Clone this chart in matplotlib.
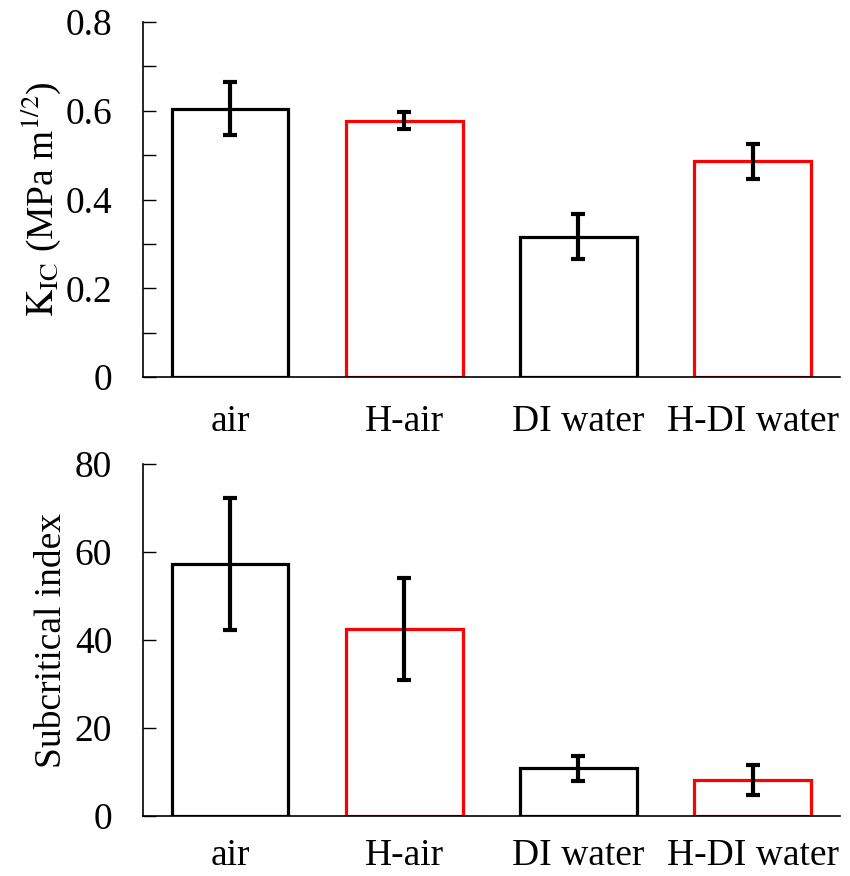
import matplotlib
matplotlib.use("Agg")
import matplotlib.pyplot as plt
from matplotlib.ticker import MultipleLocator

plt.rcParams['font.family'] = ['Liberation Serif', 'DejaVu Serif']
plt.rcParams['mathtext.fontset'] = 'stix'

categories = ["air", "H-air", "DI water", "H-DI water"]
kic_values = [0.605, 0.578, 0.316, 0.486]
kic_errors = [0.060, 0.020, 0.051, 0.039]
sub_values = [57.2, 42.5, 10.8, 8.2]
sub_errors = [15.0, 11.5, 2.9, 3.5]
edge_colors = ["black", "red", "black", "red"]

fig = plt.figure(figsize=(8.5, 8.76), dpi=100)
ax1 = fig.add_axes([0.168, 0.5696, 0.82, 0.4053])
ax2 = fig.add_axes([0.168, 0.0685, 0.82, 0.4018])

x = list(range(len(categories)))
FS = 27

def draw(ax, vals, errs, ylim, major, minor, label, lpad, xpad):
    ax.bar(x, vals, width=0.67, facecolor='white', edgecolor=edge_colors, linewidth=2.3, zorder=2)
    ax.errorbar(x, vals, yerr=errs, fmt='none', ecolor='black', elinewidth=3, capsize=5, capthick=3, zorder=3)
    ax.set_xlim(-0.5, 3.5)
    ax.set_ylim(*ylim)
    ax.yaxis.set_major_locator(MultipleLocator(major))
    if minor:
        ax.yaxis.set_minor_locator(MultipleLocator(minor))
    for s in ['top', 'right']:
        ax.spines[s].set_visible(False)
    for s in ['left', 'bottom']:
        ax.spines[s].set_linewidth(1.2)
    ax.tick_params(axis='y', which='major', direction='in', length=9, width=1, labelsize=FS, pad=22)
    ax.tick_params(axis='y', which='minor', direction='in', length=9, width=1)
    ax.tick_params(axis='x', length=0, labelsize=FS, pad=xpad)
    ax.set_xticks(x)
    ax.set_xticklabels(categories)
    ax.set_ylabel(label, fontsize=FS, labelpad=lpad)

draw(ax1, kic_values, kic_errors, (0, 0.8), 0.2, 0.1, r'$\mathrm{K_{IC}}$ (MPa m$^{1/2}$)', 2, 20)
ax1.yaxis.set_major_formatter(matplotlib.ticker.FuncFormatter(lambda v, p: '0' if abs(v) < 1e-9 else f'{v:.1f}'))
draw(ax2, sub_values, sub_errors, (0, 80), 20, None, 'Subcritical index', 4, 16)

fig.savefig("out.png", dpi=100)
